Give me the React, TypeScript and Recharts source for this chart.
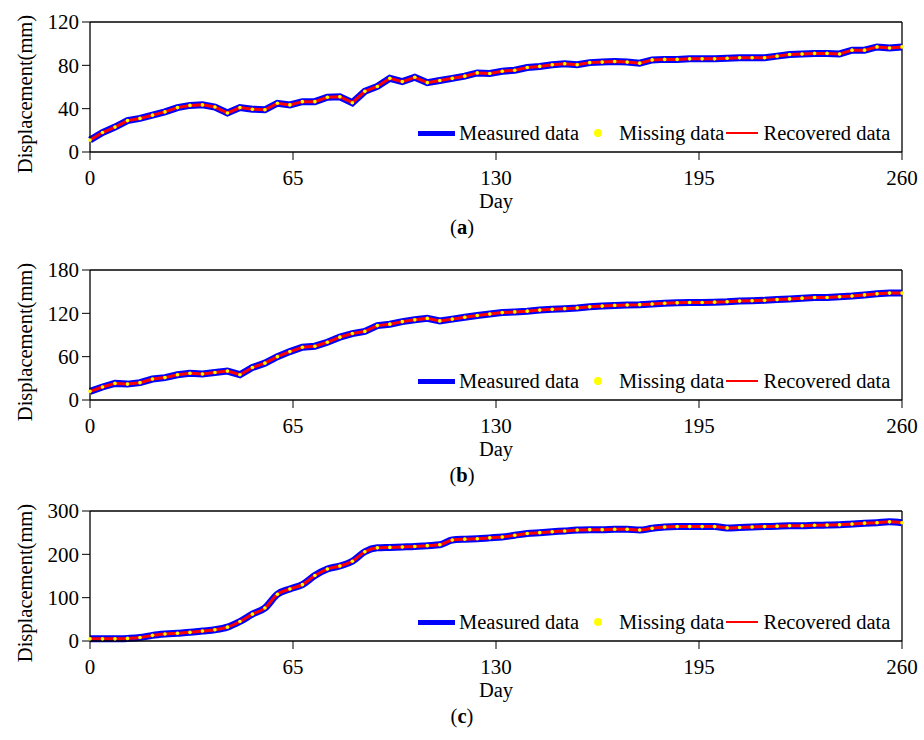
import { Line, LineChart, ReferenceLine, XAxis, YAxis } from "recharts";

const FONT = '"Liberation Serif", "Times New Roman", serif';

// observation days (every 4 days)
const days = [
  0, 4, 8, 12, 16, 20, 24, 28, 32, 36, 40, 44, 48, 52, 56, 60, 64, 68, 72, 76, 80, 84, 88, 92, 96, 100,
  104, 108, 112, 116, 120, 124, 128, 132, 136, 140, 144, 148, 152, 156, 160, 164, 168, 172, 176, 180,
  184, 188, 192, 196, 200, 204, 208, 212, 216, 220, 224, 228, 232, 236, 240, 244, 248, 252, 256, 260,
];

const dayTicks = [0, 65, 130, 195, 260];

// displacement (mm), panel (a)
const dispA = [
  11, 18, 23, 29, 31, 34, 37, 41, 43, 43.5, 41.5, 36, 41, 39.5, 39, 45, 43.5, 46.5, 46.5, 50.5, 51, 45.5,
  56, 60.5, 68, 65, 69, 64, 66, 68, 70, 73, 72.5, 74.5, 75.5, 78, 79, 80.5, 81.5, 80.5, 82.5, 83, 83.5,
  83, 82, 85, 85.5, 85.5, 86, 86, 86, 86.5, 87, 87, 87, 88.5, 90, 90.5, 91, 91, 90.5, 94, 94, 97, 96, 97,
];

// panel (b)
const dispB = [
  12, 18, 23, 22, 24, 29, 31, 35, 37, 36, 38, 40, 35, 45, 51, 60, 67, 73, 74.5, 80, 87, 92, 95, 103, 105,
  108.5, 111, 113, 109.5, 112, 114.5, 117, 119, 121, 122, 123, 124.5, 125.5, 126.5, 127.5, 129, 130, 131,
  131.5, 132, 133, 134, 134.5, 135, 135, 135.5, 136, 137, 137.5, 138, 139, 140, 141, 142, 142, 143, 144,
  145.5, 147, 148, 148,
];

// panel (c)
const dispC = [
  5, 5, 5, 6, 8, 13, 16, 18, 20, 23, 26, 32, 45, 62, 76, 108, 120, 130, 151, 166, 173, 184, 206, 215, 216,
  217, 218, 220, 222, 233, 235, 236, 238, 240, 244, 248, 250, 252, 254, 256, 257, 257, 258, 258, 256, 260,
  263, 264, 264, 264, 264, 261, 262, 263, 264, 265, 266, 266, 267, 267.5, 268, 270, 272, 273, 275, 273,
];

const ticksA = [0, 40, 80, 120];
const ticksB = [0, 60, 120, 180];
const ticksC = [0, 100, 200, 300];

function buildRows(values: number[]) {
  return days.map((day, i) => ({ day, measured: values[i], missing: values[i], recovered: values[i] }));
}

function LegendBox() {
  return (
    <div
      style={{
        position: "absolute",
        left: 418,
        top: 121,
        display: "flex",
        alignItems: "center",
        fontFamily: FONT,
        fontSize: 20.5,
        lineHeight: "24px",
        color: "#000",
        whiteSpace: "nowrap",
      }}
    >
      <span style={{ display: "inline-block", width: 37, height: 5, background: "#0000ff" }} />
      <span style={{ marginLeft: 4 }}>Measured data</span>
      <span
        style={{
          display: "inline-block",
          width: 8,
          height: 8,
          borderRadius: "50%",
          background: "#ffff00",
          marginLeft: 15,
        }}
      />
      <span style={{ marginLeft: 17 }}>Missing data</span>
      <span style={{ display: "inline-block", width: 32, height: 2, background: "#ff0000", marginLeft: 2 }} />
      <span style={{ marginLeft: 5 }}>Recovered data</span>
    </div>
  );
}

interface PanelProps {
  top: number;
  values: number[];
  yTicks: number[];
  smooth?: boolean;
  letter: string;
}

function Panel({ top, values, yTicks, smooth, letter }: PanelProps) {
  const yMax = yTicks[yTicks.length - 1];
  const curve = smooth ? "monotone" : "linear";
  const tickStyle = { fill: "#000", fontSize: 21, fontFamily: FONT };
  return (
    <div style={{ position: "absolute", left: 0, top, width: 924, height: 240 }}>
      <LineChart
        width={924}
        height={212}
        data={buildRows(values)}
        margin={{ top: 22, right: 22, bottom: 0, left: 0 }}
      >
        <XAxis
          dataKey="day"
          type="number"
          domain={[0, 260]}
          ticks={dayTicks}
          height={60}
          tickSize={8}
          tickMargin={10}
          axisLine={{ stroke: "#000", strokeWidth: 1.3 }}
          tickLine={{ stroke: "#000" }}
          tick={tickStyle}
        />
        <YAxis
          type="number"
          domain={[0, yMax]}
          ticks={yTicks}
          width={90}
          tickSize={8}
          tickMargin={3}
          axisLine={{ stroke: "#000", strokeWidth: 1.3 }}
          tickLine={{ stroke: "#000" }}
          tick={tickStyle}
        />
        <ReferenceLine y={yMax} stroke="#000" strokeWidth={1.3} />
        <ReferenceLine x={260} stroke="#000" strokeWidth={1.3} />
        <Line
          type={curve}
          dataKey="measured"
          stroke="#0000ff"
          strokeWidth={7}
          dot={false}
          isAnimationActive={false}
        />
        <Line
          type={curve}
          dataKey="recovered"
          stroke="#ff0000"
          strokeWidth={3}
          dot={false}
          isAnimationActive={false}
        />
        <Line
          type={curve}
          dataKey="missing"
          stroke="none"
          dot={{ r: 1.8, fill: "#ffff00", stroke: "none" }}
          isAnimationActive={false}
        />
      </LineChart>
      <LegendBox />
      <div
        style={{
          position: "absolute",
          left: 25,
          top: 94,
          transform: "translate(-50%, -50%) rotate(-90deg)",
          fontFamily: FONT,
          fontSize: 20.5,
          lineHeight: 1,
          whiteSpace: "nowrap",
        }}
      >
        Displacement(mm)
      </div>
      <div
        style={{
          position: "absolute",
          left: 496,
          top: 201,
          transform: "translate(-50%, -50%)",
          fontFamily: FONT,
          fontSize: 20.5,
          lineHeight: 1,
        }}
      >
        Day
      </div>
      <div
        style={{
          position: "absolute",
          left: 462,
          top: 227,
          transform: "translate(-50%, -50%)",
          fontFamily: FONT,
          fontSize: 20.5,
          lineHeight: 1,
        }}
      >
        (<b>{letter}</b>)
      </div>
    </div>
  );
}

export default function App() {
  return (
    <div style={{ position: "absolute", left: 0, top: 0, width: 924, height: 740, background: "#fff" }}>
      <Panel top={0} values={dispA} yTicks={ticksA} letter="a" />
      <Panel top={248} values={dispB} yTicks={ticksB} letter="b" />
      <Panel top={489} values={dispC} yTicks={ticksC} smooth letter="c" />
    </div>
  );
}
